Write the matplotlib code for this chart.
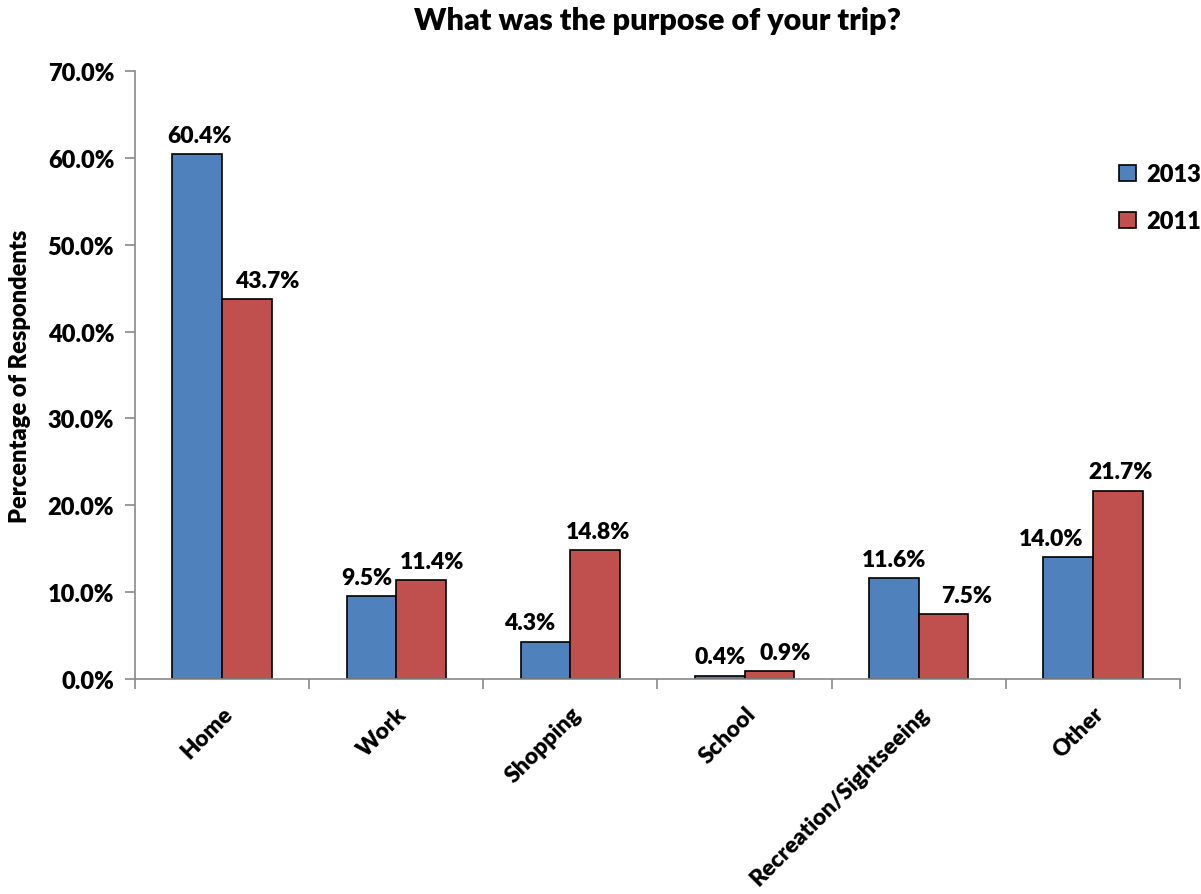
import matplotlib.pyplot as plt
import numpy as np
from matplotlib.ticker import FuncFormatter, FixedLocator

categories = ["Home", "Work", "Shopping", "School", "Recreation/Sightseeing", "Other"]
vals_2013 = [60.4, 9.5, 4.3, 0.4, 11.6, 14.0]
vals_2011 = [43.7, 11.4, 14.8, 0.9, 7.5, 21.7]
series_labels = ["2013", "2011"]

# horizontal nudges of the data labels (points), as placed in the original
nudge_2013 = [1.5, -3.5, -11.5, 0, 0, -12]
nudge_2011 = [14.5, 8, 2, 11.5, 16.5, 2]

plt.rcParams['font.family'] = ['Lato', 'DejaVu Sans']
FW = 'heavy'

fig = plt.figure(figsize=(12.01, 8.95), dpi=100)
ax = fig.add_axes([0.1124, 0.2402, 0.8701, 0.6794])

x = np.arange(len(categories))
w = 0.285
b1 = ax.bar(x - w/2, vals_2013, w, color='#4F81BD', edgecolor='black', linewidth=1.2, label=series_labels[0])
b2 = ax.bar(x + w/2, vals_2011, w, color='#C0504D', edgecolor='black', linewidth=1.2, label=series_labels[1])

for bars, vals, nud in ((b1, vals_2013, nudge_2013), (b2, vals_2011, nudge_2011)):
    for r, v, dx in zip(bars, vals, nud):
        ax.annotate(f"{v:.1f}%", (r.get_x() + r.get_width()/2, v), xytext=(dx, 6),
                    textcoords='offset points', ha='center', va='bottom',
                    fontsize=16.5, fontweight=FW)

ax.set_xlim(-0.5, len(categories) - 0.5)
ax.set_ylim(0, 70)
ax.set_yticks(np.arange(0, 71, 10))
ax.yaxis.set_major_formatter(FuncFormatter(lambda v, p: f"{v:.1f}%"))
ax.tick_params(axis='y', labelsize=17, length=7, color='#898989', width=1.2, pad=8)
for t in ax.get_yticklabels():
    t.set_fontweight(FW)

ax.xaxis.set_major_locator(FixedLocator(np.arange(-0.5, len(categories), 1.0)))
ax.xaxis.set_minor_locator(FixedLocator(x))
ax.set_xticklabels([])
ax.set_xticklabels(categories, minor=True, rotation=45, ha='right', rotation_mode='anchor',
                   fontsize=16.5, fontweight=FW)
ax.tick_params(axis='x', which='major', length=7, color='#898989', width=1.2)
ax.tick_params(axis='x', which='minor', length=0, pad=17)

for s in ['top', 'right']:
    ax.spines[s].set_visible(False)
for s in ['left', 'bottom']:
    ax.spines[s].set_color('#898989')
    ax.spines[s].set_linewidth(1.2)

ax.set_ylabel("Percentage of Respondents", fontsize=17, fontweight=FW, labelpad=12)
ax.set_title("What was the purpose of your trip?", fontsize=22, fontweight=FW, pad=30)

leg = fig.legend(loc='center left', bbox_to_anchor=(0.932, 0.778), frameon=False,
                 prop={'size': 17, 'weight': FW},
                 handlelength=0.7, handleheight=0.7, labelspacing=1.05, handletextpad=0.45,
                 borderaxespad=0, borderpad=0)

fig.savefig("out.png", dpi=100)
